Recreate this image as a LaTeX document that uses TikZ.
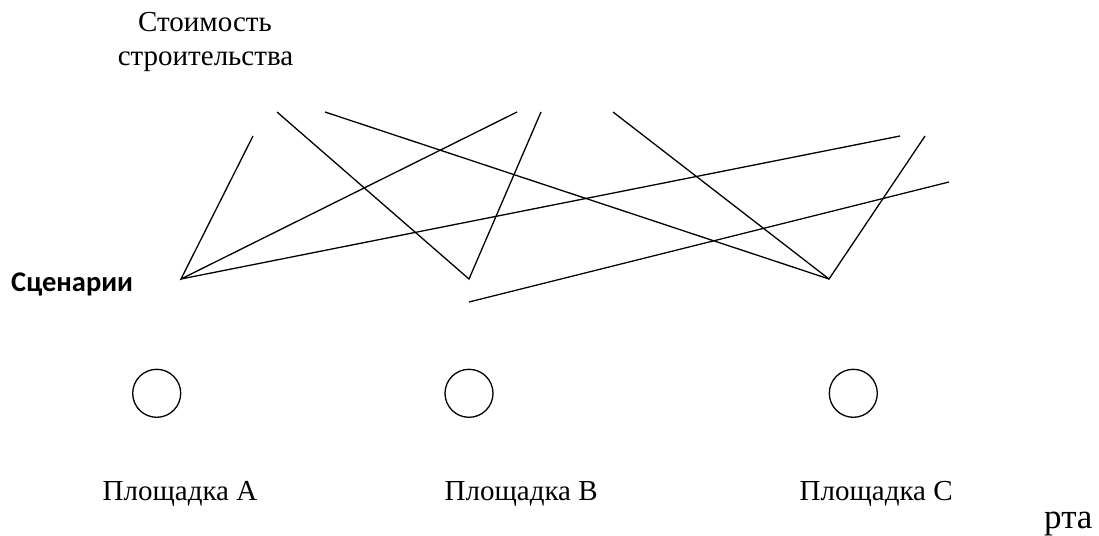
\documentclass[tikz,border=0pt]{standalone}
\usepackage{fontspec}
\setmainfont{Liberation Serif}
\newfontfamily\calibrifont{Carlito}
\begin{document}
\begin{tikzpicture}[x=1pt,y=-1pt,
  lbl/.style={inner sep=0pt,font=\fontsize{29}{35}\selectfont},
  ln/.style={line width=1.3pt},
  site/.style={circle,draw,line width=1.3pt,minimum size=48pt,inner sep=0pt}]
\useasboundingbox (0,0) rectangle (1099,535);
% texts
\node[lbl,anchor=base] (cost1) at (205,31.7) {Стоимость};
\node[lbl,anchor=base] (cost2) at (205.5,65) {строительства};
\node[inner sep=0pt,anchor=base west,font=\calibrifont\bfseries\fontsize{28.5}{34}\selectfont] (scen) at (11,291.7) {Сценарии};
\node[lbl,anchor=base west] (la) at (102.5,500.7) {Площадка A};
\node[lbl,anchor=base west] (lb) at (444.5,500.7) {Площадка B};
\node[lbl,anchor=base west] (lc) at (799.5,500.7) {Площадка C};
\node[inner sep=0pt,anchor=base west,font=\fontsize{35}{42}\selectfont] (rta) at (1044,528) {рта};
% circles
\node[site] (sa) at (156.7,393.3) {};
\node[site] (sb) at (469,393.3) {};
\node[site] (sc) at (853.3,393.3) {};
% line endpoints
\coordinate (p1) at (181,279);
\coordinate (p2) at (469,279);
\coordinate (p3) at (829,279);
\coordinate (a1) at (253,136);
\coordinate (a2) at (517,112);
\coordinate (a3) at (900,136);
\coordinate (b1) at (277,112);
\coordinate (b2) at (541,112);
\coordinate (c1) at (325,112);
\coordinate (c2) at (613,112);
\coordinate (c3) at (925,136);
\coordinate (d1) at (469,302);
\coordinate (d2) at (949,182);
% lines
\draw[ln] (a1) -- (p1) -- (a2);
\draw[ln] (p1) -- (a3);
\draw[ln] (b1) -- (p2) -- (b2);
\draw[ln] (c1) -- (p3);
\draw[ln] (c2) -- (p3) -- (c3);
\draw[ln] (d1) -- (d2);
\end{tikzpicture}
\end{document}
